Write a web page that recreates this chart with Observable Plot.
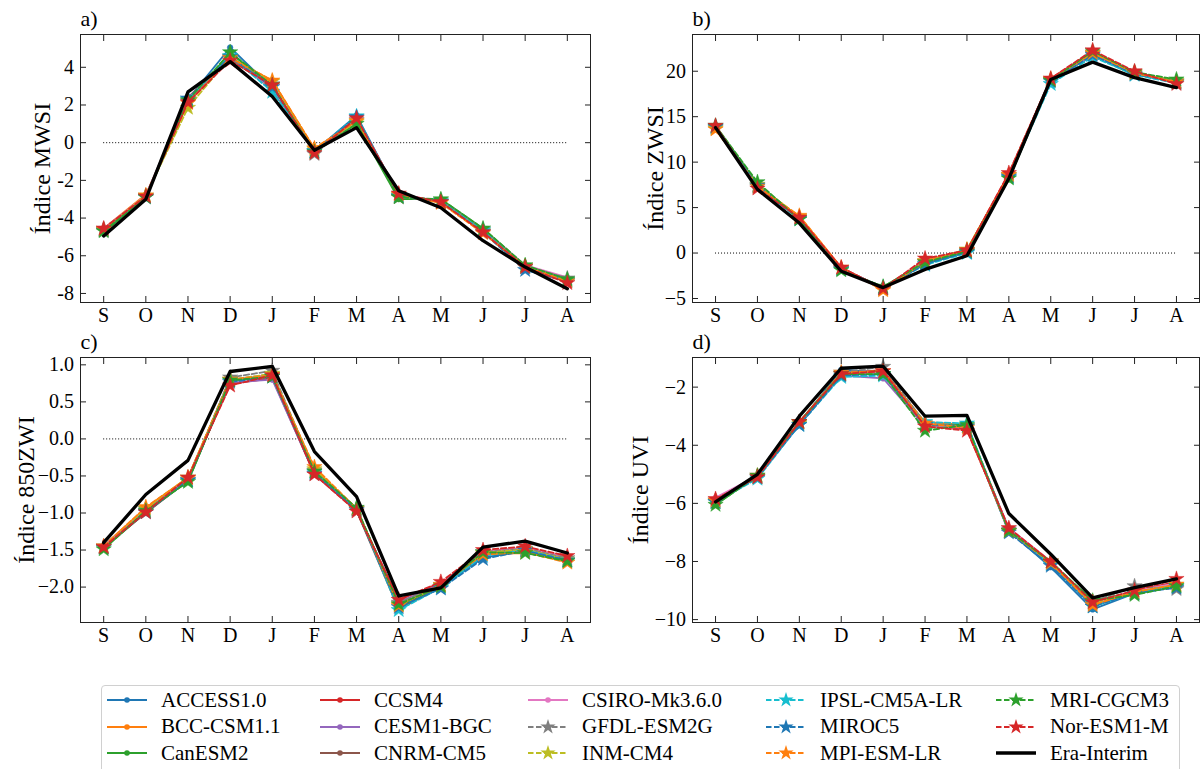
<!DOCTYPE html>
<html>
<head>
<meta charset="utf-8">
<script src="https://cdn.jsdelivr.net/npm/d3@7"></script>
<script src="https://cdn.jsdelivr.net/npm/@observablehq/plot@0.6"></script>
<style>
  html, body { margin: 0; padding: 0; background: #fff; }
  #root { position: relative; width: 1201px; height: 769px; overflow: hidden; font-family: "Liberation Serif", serif; }
  .pnl { position: absolute; }
  .pnl svg { overflow: visible; }
  #legend { position: absolute; left: 101px; top: 685px; width: 1079px; height: 120px; border: 1px solid #d0d0d0; border-radius: 4px; box-sizing: border-box; }
  .lg { position: absolute; height: 20px; display: flex; align-items: center; font-size: 21px; color: #000; white-space: nowrap; }
  .lg svg { margin-right: 14px; }
</style>
</head>
<body>
<div id="root"></div>
<script>
const months = ["S","O","N","D","J","F","M","A","M","J","J","A"];
const models = ["ACCESS1.0","BCC-CSM1.1","CanESM2","CCSM4","CESM1-BGC","CNRM-CM5","CSIRO-Mk3.6.0",
                "GFDL-ESM2G","INM-CM4","IPSL-CM5A-LR","MIROC5","MPI-ESM-LR","MRI-CGCM3","Nor-ESM1-M"];
const colors = ["#1f77b4","#ff7f0e","#2ca02c","#d62728","#9467bd","#8c564b","#e377c2",
                "#7f7f7f","#bcbd22","#17becf","#1f77b4","#ff7f0e","#2ca02c","#d62728"];
const eraName = "Era-Interim";

// a) MWSI
const mwsiEra = [-4.95,-3.0,2.7,4.3,2.45,-0.4,0.8,-2.55,-3.45,-5.2,-6.6,-7.75];
const mwsiModels = [
  [-4.6,-2.85,2.3,5.05,2.9,-0.45,1.45,-2.8,-3.1,-4.7,-6.75,-7.35],
  [-4.55,-2.75,2.1,4.5,3.3,-0.35,1.2,-2.85,-3.15,-4.75,-6.6,-7.3],
  [-4.75,-2.9,2.2,4.75,3.0,-0.5,1.0,-3.0,-3.0,-4.55,-6.55,-7.25],
  [-4.6,-2.85,2.25,4.4,3.0,-0.45,1.3,-2.75,-3.15,-4.7,-6.55,-7.4],
  [-4.65,-2.85,2.3,4.45,2.95,-0.45,1.25,-2.8,-3.15,-4.7,-6.6,-7.3],
  [-4.6,-2.8,2.4,4.5,2.85,-0.5,1.2,-2.85,-3.1,-4.65,-6.6,-7.3],
  [-4.55,-2.8,2.35,4.5,2.9,-0.4,1.3,-2.75,-3.1,-4.6,-6.5,-7.15],
  [-4.6,-2.85,2.2,4.45,3.1,-0.6,1.2,-2.9,-3.05,-4.6,-6.55,-7.2],
  [-4.65,-2.8,1.85,4.55,3.25,-0.35,1.1,-2.85,-3.15,-4.7,-6.6,-7.3],
  [-4.6,-2.85,2.3,4.6,2.7,-0.45,1.4,-2.8,-3.1,-4.65,-6.6,-7.3],
  [-4.65,-2.9,2.35,4.55,2.95,-0.45,1.35,-2.85,-3.15,-4.75,-6.75,-7.35],
  [-4.6,-2.8,2.1,4.5,3.3,-0.3,1.15,-2.75,-3.2,-4.8,-6.55,-7.35],
  [-4.7,-2.9,2.25,4.8,3.05,-0.5,1.0,-2.9,-3.0,-4.55,-6.5,-7.25],
  [-4.55,-2.85,2.15,4.35,3.05,-0.55,1.3,-2.7,-3.15,-4.75,-6.6,-7.45]
];

// b) ZWSI
const zwsiEra = [13.8,7.0,3.3,-2.0,-3.8,-1.8,-0.3,8.2,19.1,21.0,19.3,18.2];
const zwsiModels = [
  [13.9,7.3,3.8,-1.7,-3.8,-1.2,0.1,8.4,19.0,21.8,19.7,18.8],
  [13.6,7.4,4.0,-1.6,-4.0,-1.0,0.3,8.6,19.1,22.0,19.8,18.9],
  [14.0,7.6,3.7,-1.9,-3.7,-1.1,0.2,8.1,19.0,21.7,19.6,19.0],
  [14.0,7.2,3.9,-1.6,-3.9,-0.8,0.3,8.7,19.2,22.1,19.9,18.7],
  [13.9,7.3,3.8,-1.7,-3.85,-1.0,0.2,8.5,19.1,21.9,19.8,18.8],
  [13.8,7.4,3.7,-1.8,-3.8,-1.1,0.1,8.4,19.0,21.8,19.7,18.8],
  [13.9,7.3,3.8,-1.7,-3.9,-0.9,0.2,8.5,19.1,21.7,19.8,18.7],
  [13.8,7.5,3.9,-1.8,-3.8,-1.0,0.1,8.5,19.0,21.9,19.7,18.9],
  [13.7,7.5,4.0,-1.7,-4.0,-0.9,0.4,8.6,19.1,22.0,19.9,18.9],
  [13.9,7.3,3.7,-1.8,-3.8,-1.3,0.0,8.3,18.6,21.6,19.6,18.7],
  [13.9,7.4,3.8,-1.7,-3.9,-1.2,0.1,8.4,18.9,21.8,19.7,18.8],
  [13.6,7.3,4.1,-1.6,-4.1,-0.9,0.3,8.6,19.1,22.0,19.8,18.8],
  [14.0,7.8,3.7,-1.9,-3.7,-1.0,0.2,8.2,19.0,22.2,19.9,19.1],
  [14.0,7.1,3.9,-1.6,-3.9,-0.6,0.3,8.8,19.2,22.3,20.0,18.6]
];

// c) 850ZWI
const zwi850Era = [-1.40,-0.75,-0.29,0.91,0.98,-0.17,-0.78,-2.12,-2.01,-1.46,-1.38,-1.54];
const zwi850Models = [
  [-1.45,-0.97,-0.54,0.78,0.87,-0.45,-0.95,-2.28,-2.00,-1.60,-1.52,-1.64],
  [-1.44,-0.93,-0.52,0.80,0.86,-0.40,-0.94,-2.24,-1.97,-1.55,-1.54,-1.62],
  [-1.48,-0.99,-0.57,0.78,0.85,-0.46,-0.96,-2.26,-2.01,-1.56,-1.53,-1.65],
  [-1.46,-0.98,-0.53,0.74,0.82,-0.48,-0.97,-2.17,-1.95,-1.52,-1.47,-1.60],
  [-1.45,-0.98,-0.53,0.76,0.80,-0.47,-0.96,-2.20,-1.96,-1.53,-1.48,-1.61],
  [-1.46,-1.00,-0.56,0.78,0.86,-0.46,-0.97,-2.30,-2.00,-1.56,-1.50,-1.63],
  [-1.44,-0.96,-0.54,0.80,0.87,-0.44,-0.95,-2.22,-1.98,-1.53,-1.47,-1.60],
  [-1.45,-0.95,-0.55,0.83,0.92,-0.43,-0.95,-2.21,-1.97,-1.53,-1.48,-1.61],
  [-1.46,-0.94,-0.52,0.80,0.88,-0.41,-0.95,-2.24,-1.98,-1.54,-1.49,-1.63],
  [-1.47,-0.98,-0.56,0.79,0.85,-0.45,-0.94,-2.31,-2.01,-1.58,-1.50,-1.64],
  [-1.46,-0.99,-0.56,0.77,0.84,-0.47,-0.96,-2.27,-2.02,-1.62,-1.51,-1.64],
  [-1.45,-0.92,-0.53,0.80,0.86,-0.38,-0.94,-2.25,-1.97,-1.56,-1.53,-1.67],
  [-1.49,-0.97,-0.58,0.79,0.84,-0.44,-0.93,-2.23,-1.99,-1.53,-1.54,-1.65],
  [-1.46,-0.99,-0.52,0.72,0.86,-0.48,-0.98,-2.17,-1.93,-1.50,-1.45,-1.58]
];

// d) UVI
const uviEra = [-5.95,-5.0,-3.0,-1.35,-1.28,-3.0,-2.97,-6.35,-7.75,-9.25,-8.9,-8.6];
const uviModels = [
  [-5.95,-5.1,-3.25,-1.4,-1.5,-3.3,-3.35,-6.95,-8.2,-9.65,-9.1,-8.85],
  [-5.9,-5.05,-3.2,-1.55,-1.45,-3.2,-3.3,-6.9,-8.0,-9.5,-9.0,-8.8],
  [-6.05,-5.05,-3.2,-1.5,-1.5,-3.3,-3.3,-6.95,-8.05,-9.35,-9.05,-8.8],
  [-5.85,-5.1,-3.25,-1.55,-1.4,-3.3,-3.45,-6.9,-8.05,-9.45,-9.0,-8.7],
  [-5.9,-5.1,-3.3,-1.6,-1.7,-3.35,-3.4,-6.95,-8.1,-9.5,-9.05,-8.75],
  [-5.9,-5.05,-3.25,-1.5,-1.45,-3.3,-3.4,-6.9,-8.05,-9.45,-9.05,-8.8],
  [-5.8,-5.05,-3.2,-1.55,-1.5,-3.3,-3.4,-6.85,-8.0,-9.45,-9.0,-8.75],
  [-5.9,-5.05,-3.2,-1.5,-1.3,-3.25,-3.35,-6.9,-8.05,-9.4,-8.85,-8.95],
  [-5.95,-5.1,-3.25,-1.55,-1.55,-3.3,-3.35,-6.95,-8.0,-9.45,-9.05,-8.8],
  [-5.95,-5.15,-3.3,-1.65,-1.6,-3.2,-3.25,-6.95,-8.1,-9.55,-9.1,-8.85],
  [-5.95,-5.1,-3.3,-1.6,-1.55,-3.3,-3.35,-7.0,-8.15,-9.55,-9.1,-8.9],
  [-5.9,-5.05,-3.2,-1.5,-1.45,-3.25,-3.4,-6.95,-8.05,-9.5,-9.05,-8.8],
  [-6.05,-5.05,-3.2,-1.55,-1.55,-3.5,-3.3,-6.95,-8.0,-9.35,-9.15,-8.85],
  [-5.85,-5.1,-3.2,-1.55,-1.45,-3.35,-3.5,-6.85,-8.0,-9.4,-9.0,-8.6]
];

const yTicksA = [-8,-6,-4,-2,0,2,4];
const yTicksB = [-5,0,5,10,15,20];
const yTicksC = [-2.0,-1.5,-1.0,-0.5,0.0,0.5,1.0];
const yTicksD = [-10,-8,-6,-4,-2];

const isDashed = k => k >= 7;
const TICK = -6;
const STAR_R = 4.8, DOT_R = 2.8;

function panel(o) {
  const rows = [];
  o.models.forEach((vals, k) => vals.forEach((v, i) => rows.push({i, v, k})));
  const era = o.era.map((v, i) => ({i, v}));
  const marks = [];
  if (o.domain[0] < 0 && o.domain[1] > 0) {
    marks.push(Plot.ruleY([0], {x1: 0, x2: months.length - 1, stroke: "#000", strokeWidth: 1, strokeDasharray: "1,2"}));
  }
  o.models.forEach((_, k) => {
    const d = rows.filter(r => r.k === k);
    marks.push(Plot.line(d, {x: "i", y: "v", stroke: colors[k], strokeWidth: 1.8,
      strokeDasharray: isDashed(k) ? "5.5,2.5" : null}));
    marks.push(Plot.dot(d, {x: "i", y: "v", fill: colors[k], stroke: colors[k], strokeWidth: 0.5,
      symbol: isDashed(k) ? "star" : "circle", r: isDashed(k) ? STAR_R : DOT_R}));
  });
  marks.push(Plot.line(era, {x: "i", y: "v", stroke: "#000", strokeWidth: 3.3}));
  marks.push(Plot.frame({stroke: "#222", strokeWidth: 1}));
  marks.push(Plot.axisX({anchor: "bottom", ticks: d3.range(12), tickSize: TICK, tickPadding: 11.5,
    tickFormat: i => months[i], label: null, stroke: "#222", fontSize: 20}));
  marks.push(Plot.axisX({anchor: "top", ticks: d3.range(12), tickSize: TICK, tickFormat: () => "", label: null, stroke: "#222"}));
  marks.push(Plot.axisY({anchor: "left", ticks: o.ticks, tickSize: TICK, tickPadding: 12.5,
    tickFormat: o.fmt, label: null, stroke: "#222", fontSize: 20}));
  marks.push(Plot.axisY({anchor: "right", ticks: o.ticks, tickSize: TICK, tickFormat: () => "", label: null, stroke: "#222"}));
  marks.push(Plot.text([o.label], {frameAnchor: "left", rotate: -90, dx: o.labelDx, textAnchor: "middle",
    lineAnchor: "middle", fontSize: 24, fill: "#000"}));
  marks.push(Plot.text([o.tag], {frameAnchor: "top-left", textAnchor: "start", lineAnchor: "bottom",
    dy: -9, fontSize: 22, fill: "#000"}));
  const svg = Plot.plot({
    width: o.width, height: o.height,
    marginLeft: o.ml, marginRight: o.mr, marginTop: o.mt, marginBottom: o.mb,
    x: {domain: [-0.55, 11.55]},
    y: {domain: o.domain},
    style: {fontFamily: "Liberation Serif, serif", fontSize: "20px", background: "transparent", color: "#000", overflow: "visible"},
    marks
  });
  const wrap = document.createElement("div");
  wrap.className = "pnl";
  wrap.style.left = o.left + "px";
  wrap.style.top = o.top + "px";
  wrap.appendChild(svg);
  document.getElementById("root").appendChild(wrap);
}

const hy = v => String(v);
const um = d => v => (v < 0 ? "\u2212" : "") + Math.abs(v).toFixed(d);

panel({models: mwsiModels, era: mwsiEra, domain: [-8.48, 5.74], ticks: yTicksA, fmt: hy,
  label: "Índice MWSI", tag: "a)", labelDx: -38,
  left: 0, top: 0, width: 600, height: 330, ml: 80, mr: 10, mt: 34, mb: 28});
panel({models: zwsiModels, era: zwsiEra, domain: [-5.44, 24.04], ticks: yTicksB, fmt: um(0),
  label: "Índice ZWSI", tag: "b)", labelDx: -37,
  left: 600, top: 0, width: 601, height: 330, ml: 92, mr: 2, mt: 34, mb: 28});
panel({models: zwi850Models, era: zwi850Era, domain: [-2.478, 1.099], ticks: yTicksC, fmt: um(1),
  label: "Índice 850ZWI", tag: "c)", labelDx: -54,
  left: 0, top: 323, width: 600, height: 330, ml: 80, mr: 10, mt: 34, mb: 31});
panel({models: uviModels, era: uviEra, domain: [-10.1, -0.98], ticks: yTicksD, fmt: um(0),
  label: "Índice UVI", tag: "d)", labelDx: -52,
  left: 600, top: 323, width: 601, height: 330, ml: 92, mr: 2, mt: 34, mb: 31});

// Legend
const root = document.getElementById("root");
const lgBox = document.createElement("div");
lgBox.id = "legend";
root.appendChild(lgBox);
const colX = [107, 320, 528, 766, 996];
const rowY = [700, 726.7, 753.3];
const entries = models.map((name, k) => ({name, k})).concat([{name: eraName, k: -1}]);
entries.forEach((e, idx) => {
  const col = Math.floor(idx / 3), row = idx % 3;
  const div = document.createElement("div");
  div.className = "lg";
  div.style.left = colX[col] + "px";
  div.style.top = (rowY[row] - 10) + "px";
  const s = d3.create("svg").attr("width", 40).attr("height", 20);
  if (e.k < 0) {
    s.append("line").attr("x1", 0).attr("x2", 40).attr("y1", 10).attr("y2", 10).attr("stroke", "#000").attr("stroke-width", 3.3);
  } else {
    s.append("line").attr("x1", 0).attr("x2", 40).attr("y1", 10).attr("y2", 10)
      .attr("stroke", colors[e.k]).attr("stroke-width", 1.8)
      .attr("stroke-dasharray", isDashed(e.k) ? "5.5,2.5" : null);
    if (isDashed(e.k)) {
      s.append("path").attr("transform", "translate(20,10)")
        .attr("d", d3.symbol(d3.symbolStar, Math.PI * STAR_R * STAR_R)())
        .attr("fill", colors[e.k]);
    } else {
      s.append("circle").attr("cx", 20).attr("cy", 10).attr("r", DOT_R).attr("fill", colors[e.k]);
    }
  }
  div.appendChild(s.node());
  const t = document.createElement("span");
  t.textContent = e.name;
  div.appendChild(t);
  root.appendChild(div);
});
</script>
</body>
</html>
